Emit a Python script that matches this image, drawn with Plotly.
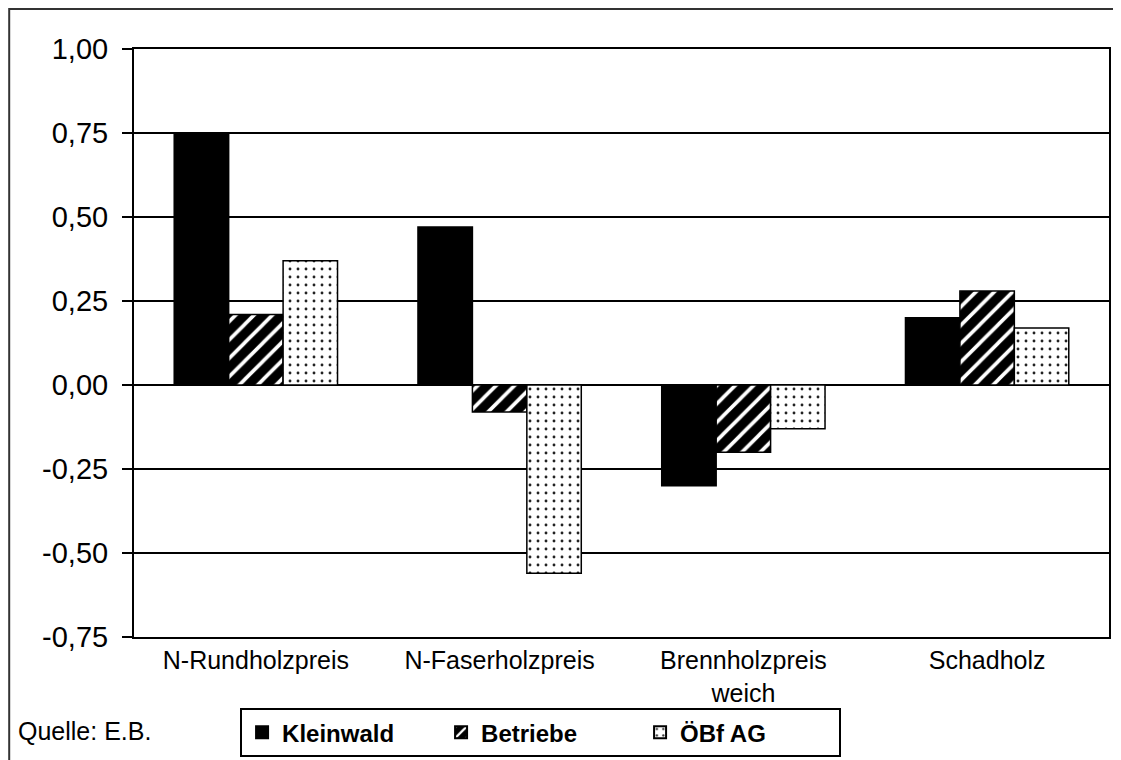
import plotly.graph_objects as go

categories = ["N-Rundholzpreis", "N-Faserholzpreis", "Brennholzpreis<br>weich", "Schadholz"]
kleinwald = [0.75, 0.47, -0.30, 0.20]
betriebe = [0.21, -0.08, -0.20, 0.28]
oebf = [0.37, -0.56, -0.13, 0.17]
tick_vals = [-0.75, -0.50, -0.25, 0.00, 0.25, 0.50, 0.75, 1.00]
tick_text = ["-0,75", "-0,50", "-0,25", "0,00", "0,25", "0,50", "0,75", "1,00"]

FONT = "Liberation Sans, Arial, sans-serif"

fig = go.Figure()
fig.add_trace(go.Bar(
    name="Kleinwald", x=categories, y=kleinwald,
    marker=dict(color="black", line=dict(color="black", width=1.5)),
))
fig.add_trace(go.Bar(
    name="Betriebe", x=categories, y=betriebe,
    marker=dict(color="black", line=dict(color="black", width=1.5),
                pattern=dict(shape="/", fgcolor="white", bgcolor="black",
                             size=13, solidity=0.28, fillmode="replace")),
))
fig.add_trace(go.Bar(
    name="ÖBf AG", x=categories, y=oebf,
    marker=dict(color="white", line=dict(color="black", width=1.5),
                pattern=dict(shape=".", fgcolor="#222222", bgcolor="white",
                             size=8, solidity=0.1, fillmode="replace")),
))

fig.update_layout(
    width=1121, height=760,
    margin=dict(l=126, r=20, t=41, b=130),
    paper_bgcolor="white", plot_bgcolor="white",
    barmode="group", bargap=0.33, bargroupgap=0,
    font=dict(family=FONT, color="black"),
    showlegend=True,
    legend=dict(
        orientation="h", x=0.417, xanchor="center", y=-0.119, yanchor="top",
        bordercolor="black", borderwidth=2, bgcolor="white",
        font=dict(family=FONT, size=24, color="black", weight="bold"),
        entrywidth=154, entrywidthmode="pixels",
        itemsizing="constant",
    ),
    xaxis=dict(
        showline=True, linecolor="black", linewidth=2, mirror=True,
        showgrid=False, ticks="", tickfont=dict(family=FONT, size=25),
    ),
    yaxis=dict(
        range=[-0.75, 1.0], tickvals=tick_vals, ticktext=tick_text,
        showline=True, linecolor="black", linewidth=2, mirror=True,
        showgrid=True, gridcolor="black", gridwidth=1.5,
        zeroline=True, zerolinecolor="black", zerolinewidth=1.5,
        ticks="outside", ticklen=10, tickwidth=2, tickcolor="black",
        tickfont=dict(family=FONT, size=29), ticklabelstandoff=8,
    ),
    shapes=[dict(type="rect", xref="paper", yref="paper",
                 x0=-0.128, x1=1.03, y0=-0.24, y1=1.068,
                 line=dict(color="#333333", width=2), fillcolor="rgba(0,0,0,0)", layer="below")],
    annotations=[dict(text="Quelle: E.B.", xref="paper", yref="paper",
                      x=-0.121, y=-0.16, xanchor="left", yanchor="middle",
                      showarrow=False, font=dict(family=FONT, size=25, color="black"))],
)

fig.write_html("out.html")
